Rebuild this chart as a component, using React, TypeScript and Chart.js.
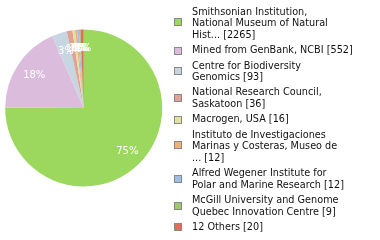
import { useEffect, useRef } from "react";
import { Chart, registerables } from "chart.js";

Chart.register(...registerables);

const categories: string[] = [
  "Smithsonian Institution, National Museum of Natural Hist...",
  "Mined from GenBank, NCBI",
  "Centre for Biodiversity Genomics",
  "National Research Council, Saskatoon",
  "Macrogen, USA",
  "Instituto de Investigaciones Marinas y Costeras, Museo de ...",
  "Alfred Wegener Institute for Polar and Marine Research",
  "McGill University and Genome Quebec Innovation Centre",
  "12 Others",
];

const counts: number[] = [2265, 552, 93, 36, 16, 12, 12, 9, 20];

const sliceColors: string[] = [
  "#9dd85e",
  "#dcbcdc",
  "#c8d6e2",
  "#e0a296",
  "#dee4a0",
  "#f0b078",
  "#a0bee0",
  "#a0c870",
  "#de705a",
];

const FONT = "'DejaVu Sans', sans-serif";
const LEGEND_FONT_PX = 9.7;
const LINE_H = 11.7;
const ITEM_GAP = 3.5;
const WRAP_CHARS = 30;

function wrapText(text: string, maxChars: number): string[] {
  const words = text.split(" ");
  const lines: string[] = [];
  let cur = "";
  for (const w of words) {
    const test = cur ? cur + " " + w : w;
    if (test.length > maxChars && cur) {
      lines.push(cur);
      cur = w;
    } else {
      cur = test;
    }
  }
  if (cur) lines.push(cur);
  return lines;
}

const percentLabels = {
  id: "percentLabels",
  afterDatasetsDraw(chart: any) {
    const ctx = chart.ctx as CanvasRenderingContext2D;
    const meta = chart.getDatasetMeta(0);
    const data = chart.data.datasets[0].data as number[];
    const total = data.reduce((a, b) => a + b, 0);
    ctx.save();
    ctx.font = `10px ${FONT}`;
    ctx.fillStyle = "#ffffff";
    ctx.textAlign = "center";
    ctx.textBaseline = "middle";
    meta.data.forEach((arc: any, i: number) => {
      const p = arc.getProps(["x", "y", "startAngle", "endAngle", "outerRadius"], true);
      const mid = (p.startAngle + p.endAngle) / 2;
      const r = p.outerRadius * 0.77;
      const txt = Math.round((data[i] / total) * 100) + "%";
      ctx.fillText(txt, p.x + Math.cos(mid) * r + 1, p.y + Math.sin(mid) * r + 0.8);
    });
    ctx.restore();
  },
};

const sideLegend = {
  id: "sideLegend",
  afterDraw(chart: any) {
    const ctx = chart.ctx as CanvasRenderingContext2D;
    const labels = chart.data.labels as string[];
    const data = chart.data.datasets[0].data as number[];
    const colors = chart.data.datasets[0].backgroundColor as string[];
    ctx.save();
    ctx.font = `${LEGEND_FONT_PX}px ${FONT}`;
    ctx.textAlign = "left";
    ctx.textBaseline = "middle";
    let y = 12.2;
    labels.forEach((lab, i) => {
      const lines = wrapText(`${lab} [${data[i]}]`, WRAP_CHARS);
      const n = lines.length;
      const center = y + ((n - 1) * LINE_H) / 2;
      const bc = Math.round(center - (n - 1) * 0.8);
      ctx.fillStyle = "#888888";
      ctx.fillRect(174, bc - 4, 8, 8);
      ctx.fillStyle = colors[i];
      ctx.fillRect(175, bc - 3, 6, 6);
      ctx.fillStyle = "#111111";
      lines.forEach((ln, k) => {
        ctx.fillText(ln, 192, y + k * LINE_H);
      });
      y += n * LINE_H + ITEM_GAP;
    });
    ctx.restore();
  },
};

export default function App() {
  const canvasRef = useRef<HTMLCanvasElement | null>(null);

  useEffect(() => {
    if (!canvasRef.current) return;
    const chart = new Chart(canvasRef.current, {
      type: "pie",
      data: {
        labels: categories,
        datasets: [
          {
            data: counts,
            backgroundColor: sliceColors,
            borderWidth: 0,
          },
        ],
      },
      options: {
        animation: false,
        responsive: false,
        devicePixelRatio: 1,
        layout: {
          padding: { left: 5.2, top: 29.5, right: 217.8, bottom: 53.5 },
        },
        plugins: {
          legend: { display: false },
          tooltip: { enabled: false },
        },
      },
      plugins: [percentLabels, sideLegend],
    });
    return () => chart.destroy();
  }, []);

  return (
    <div style={{ position: "fixed", left: 0, top: 0, width: 380, height: 240, background: "#ffffff" }}>
      <canvas ref={canvasRef} width={380} height={240} style={{ width: 380, height: 240, display: "block" }} />
    </div>
  );
}
